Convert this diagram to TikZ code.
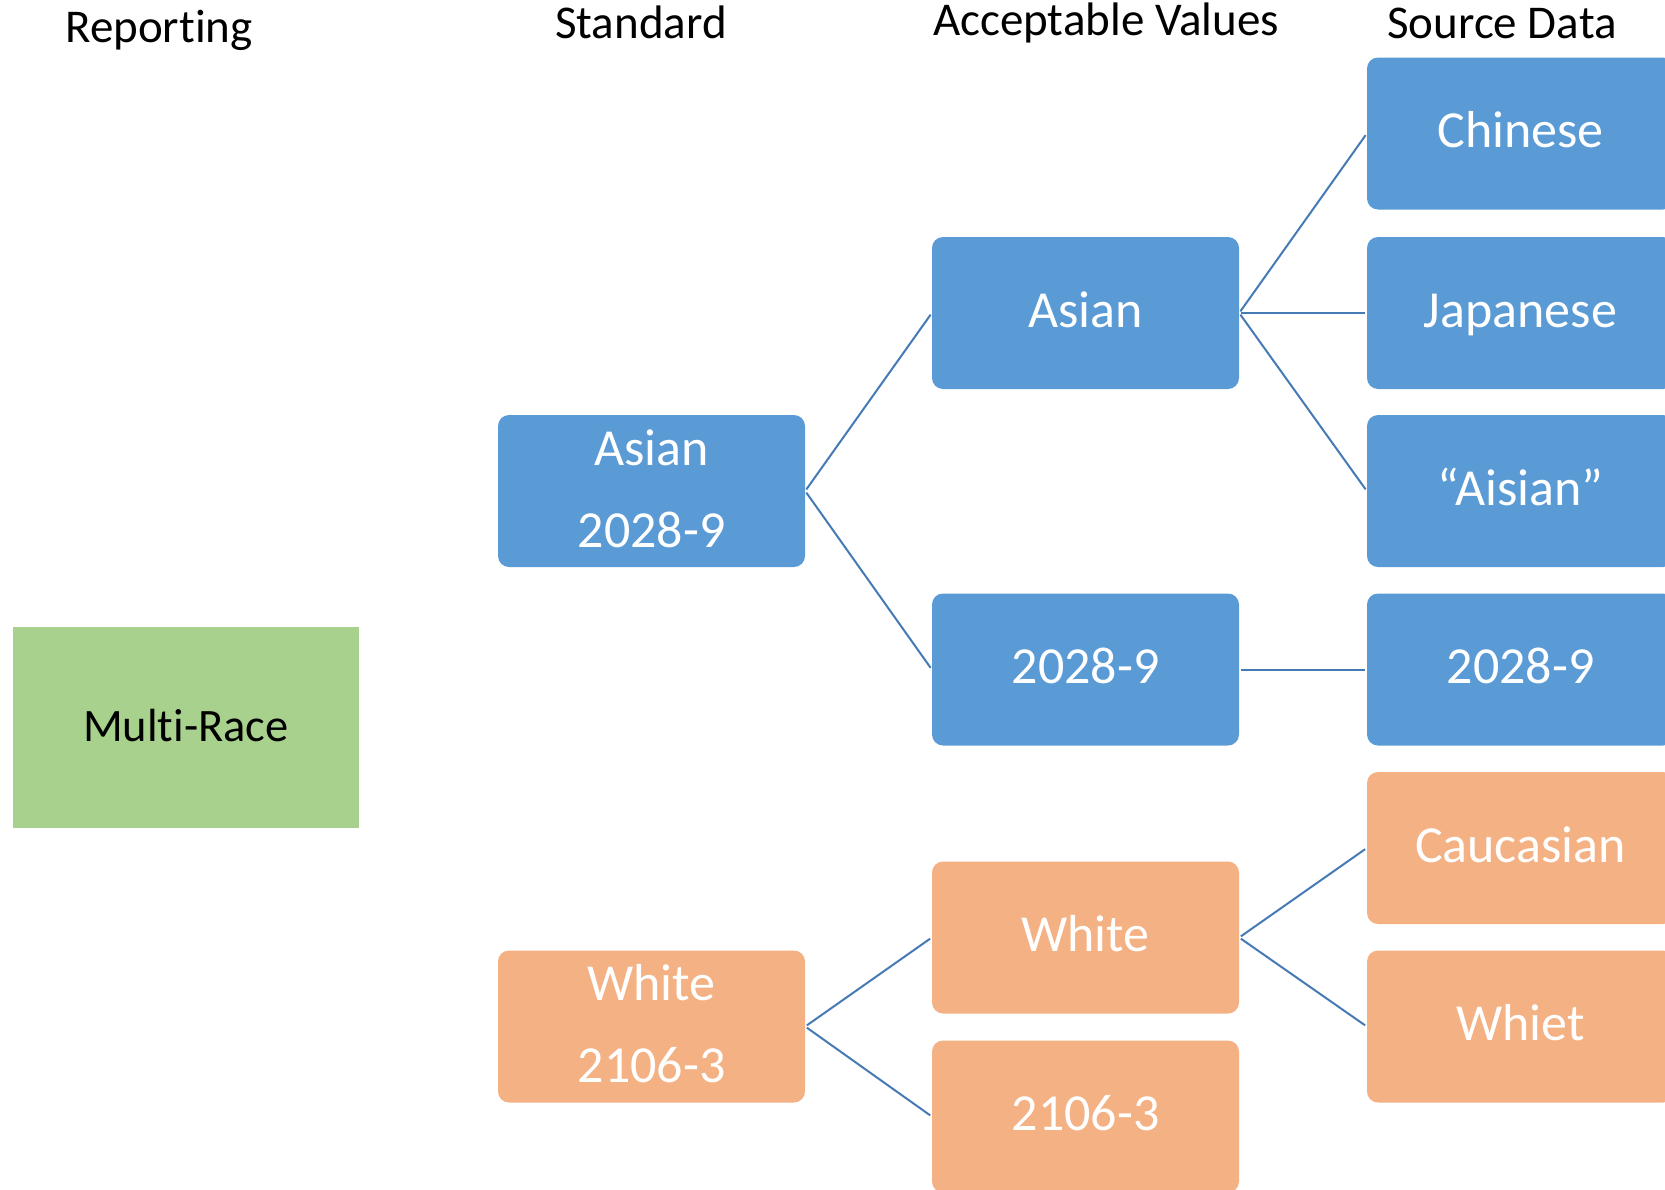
\documentclass[tikz,border=0pt]{standalone}
\usepackage{fontspec}
\setmainfont{Carlito}[Ligatures={NoCommon,NoContextual,NoRare}]
\definecolor{boxblue}{RGB}{91,155,213}
\definecolor{boxorange}{RGB}{244,177,131}
\definecolor{boxgreen}{RGB}{169,209,142}
\definecolor{linkblue}{RGB}{70,122,180}
\begin{document}
\begin{tikzpicture}[x=1pt,y=-1pt,
  box/.style={rounded corners=11pt, minimum width=307pt, minimum height=152pt, inner sep=0pt,
    text=white, font=\fontsize{52}{62}\selectfont, text height=38pt, text depth=10pt},
  bluebox/.style={box, fill=boxblue},
  orangebox/.style={box, fill=boxorange},
  hdr/.style={font=\fontsize{47}{56}\selectfont, anchor=base, inner sep=0pt},
  lbl/.style={text=white, font=\fontsize{52}{62}\selectfont, inner sep=0pt, text height=38pt, text depth=10pt},
  link/.style={draw=linkblue, line width=2pt, shorten <=2pt, shorten >=2pt}]
\useasboundingbox (0,0) rectangle (1665,1189);
\clip (0,0) rectangle (1665,1189);

% headers
\node[hdr] (h1) at (159,42.7) {Reporting};
\node[hdr] (h2) at (641,38.5) {Standard};
\node[hdr] (h3) at (1106,35.5) {Acceptable Values};
\node[hdr] (h4) at (1502,38.5) {Source Data};

% reporting
\node[fill=boxgreen, minimum width=346pt, minimum height=201pt, inner sep=0pt,
  font=\fontsize{46.5}{56}\selectfont, text height=36pt, text depth=6.6pt] (mr) at (186,727) {Multi-Race};

% standard
\node[bluebox,
  label={[name=sa-t1, lbl, yshift=40pt]center:Asian},
  label={[name=sa-t2, lbl, yshift=-42.2pt]center:2028-9}] (sa) at (651.5,491) {};
\node[orangebox,
  label={[name=sw-t1, lbl, yshift=40pt]center:White},
  label={[name=sw-t2, lbl, yshift=-42.2pt]center:2106-3}] (sw) at (651.5,1026.5) {};

% acceptable values
\node[bluebox] (ava) at (1085.5,313) {Asian};
\node[bluebox] (avn) at (1085.5,669.5) {2028-9};
\node[orangebox] (avw) at (1085.5,937.5) {White};
\node[orangebox] (avc) at (1085.5,1116.5) {2106-3};

% source data
\node[bluebox] (sd1) at (1520.5,133.5) {Chinese};
\node[bluebox] (sd2) at (1520.5,313) {Japanese};
\node[bluebox] (sd3) at (1520.5,491) {“Aisian”};
\node[bluebox] (sd4) at (1520.5,669.5) {2028-9};
\node[orangebox] (sd5) at (1520.5,848) {Caucasian};
\node[orangebox] (sd6) at (1520.5,1026.5) {Whiet};

% connectors
\draw[link] (sa.east) -- (ava.west);
\draw[link] (sa.east) -- (avn.west);
\draw[link] (sw.east) -- (avw.west);
\draw[link] (sw.east) -- (avc.west);
\draw[link] (ava.east) -- (sd1.west);
\draw[link] (ava.east) -- (sd2.west);
\draw[link] (ava.east) -- (sd3.west);
\draw[link] (avn.east) -- (sd4.west);
\draw[link] (avw.east) -- (sd5.west);
\draw[link] (avw.east) -- (sd6.west);
\end{tikzpicture}
\end{document}
